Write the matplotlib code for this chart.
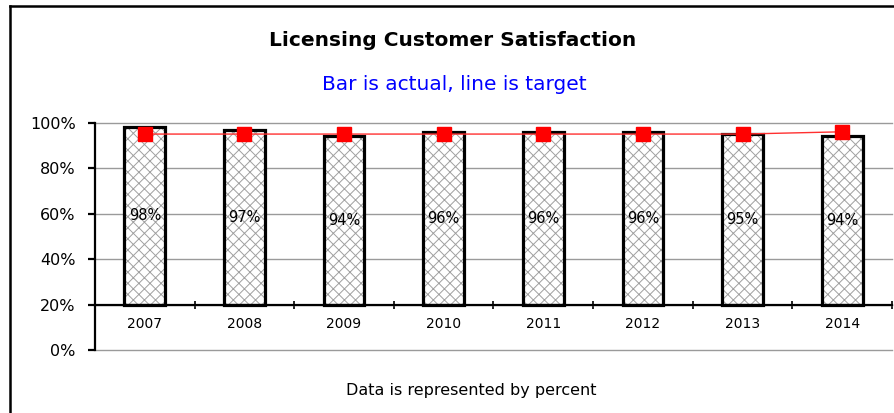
import matplotlib
matplotlib.use("Agg")
import matplotlib.pyplot as plt
from matplotlib.lines import Line2D
from matplotlib.ticker import FuncFormatter, FixedLocator

years = ["2007", "2008", "2009", "2010", "2011", "2012", "2013", "2014"]
actual = [98, 97, 94, 96, 96, 96, 95, 94]
target = [95, 95, 95, 95, 95, 95, 95, 96]
baseline = 20
title = "Licensing Customer Satisfaction"
subtitle = "Bar is actual, line is target"
footer = "Data is represented by percent"

plt.rcParams['font.family'] = ['DejaVu Sans']
plt.rcParams['hatch.linewidth'] = 0.7

W, H = 895, 413
fig = plt.figure(figsize=(W / 100, H / 100), dpi=100)
ax = fig.add_axes([95 / W, 1 - 350 / H, (892 - 95) / W, (350 - 122.7) / H])

x = list(range(len(years)))
heights = [a - baseline for a in actual]

# hatched fill
ax.bar(x, heights, bottom=baseline, width=0.41, color='white',
       edgecolor='#a0a0a0', hatch='xxx', linewidth=0, zorder=2)
# black outline
bars = ax.bar(x, heights, bottom=baseline, width=0.41, fill=False,
              edgecolor='black', linewidth=2.3, zorder=3)
ax.bar_label(bars, labels=[f"{a}%" for a in actual], label_type='center',
             fontsize=10.5, color='black', zorder=5)

ax.plot(x, target, color='#ff3030', linewidth=1.0, marker='s',
        markersize=10.5, markerfacecolor='#ff0000', markeredgecolor='#ff0000',
        zorder=4)

ax.set_xlim(-0.5, len(years) - 0.5)
ax.set_ylim(0, 100)
ax.set_yticks([0, 20, 40, 60, 80, 100])
ax.yaxis.set_major_formatter(FuncFormatter(lambda v, p: f"{int(v)}%"))
ax.grid(axis='y', color='#9a9a9a', linewidth=1.0, zorder=0)
ax.set_axisbelow(True)
for gl in ax.get_ygridlines():
    gl.set_clip_on(False)

ax.spines['top'].set_visible(False)
ax.spines['right'].set_visible(False)
ax.spines['bottom'].set_position(('data', baseline))
ax.spines['bottom'].set_linewidth(1.6)
ax.spines['left'].set_linewidth(1.6)
ax.spines['bottom'].set_zorder(6)

ax.set_xticks(x)
ax.set_xticklabels(years, fontsize=10)
ax.tick_params(axis='x', which='major', length=0, pad=9)
ax.xaxis.set_minor_locator(FixedLocator([i + 0.5 for i in x]))
ax.tick_params(axis='x', which='minor', direction='inout', length=6, width=1.2)
ax.tick_params(axis='y', direction='out', length=5, width=1.6, labelsize=11.5, pad=9)

fig.text(453 / W, 1 - 40 / H, title, ha='center', va='center',
         fontsize=14.5, fontweight='bold', color='black')
fig.text(454 / W, 1 - 85 / H, subtitle, ha='center', va='center',
         fontsize=14.5, color='#0000ff')
fig.text(471 / W, 1 - 391 / H, footer, ha='center', va='center',
         fontsize=11.5, color='black')

# outer frame (partially cropped)
fig.add_artist(Line2D([10 / W, 10 / W], [0, 1 - 6 / H], transform=fig.transFigure,
                      color='black', linewidth=1.8))
fig.add_artist(Line2D([10 / W, 1], [1 - 6 / H, 1 - 6 / H], transform=fig.transFigure,
                      color='black', linewidth=1.8))

fig.savefig("out.png", dpi=100)
